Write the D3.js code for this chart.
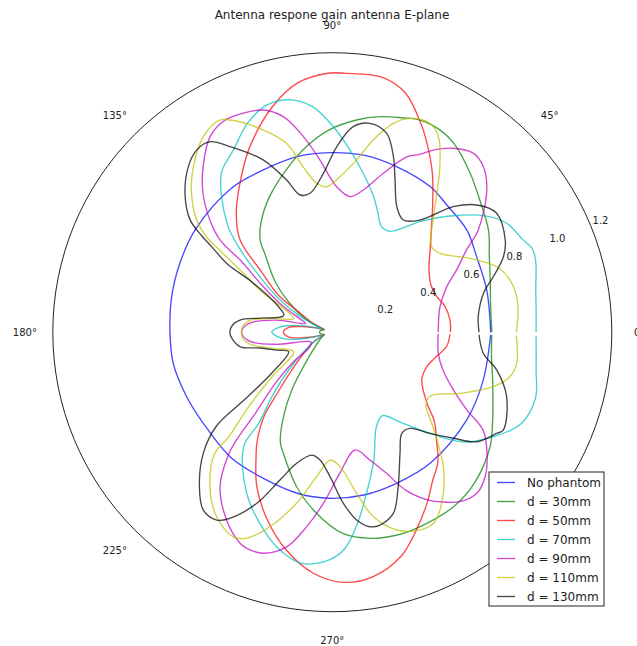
<!DOCTYPE html>
<html>
<head>
<meta charset="utf-8">
<script src="https://cdn.jsdelivr.net/npm/d3@7"></script>
<style>
  body { margin: 0; background: #ffffff; }
  text { font-family: "DejaVu Sans", sans-serif; fill: #222; }
</style>
</head>
<body>
<svg id="chart" width="637" height="646"></svg>
<script>
// ---- data: angle in degrees (counter-clockwise from 0°), normalised gain ----
const seriesNames = ["No phantom", "d = 30mm", "d = 50mm", "d = 70mm", "d = 90mm", "d = 110mm", "d = 130mm"];
const seriesColors = ["#0000ff", "#008000", "#ff0000", "#00bfbf", "#bf00bf", "#bfbf00", "#000000"];

const angNoPhantom = [0, 15, 28, 37, 48, 56, 69, 80, 91, 101, 113, 125, 143, 156, 168, 180, 191, 204, 215, 231, 245, 258, 269, 281, 293, 307, 327, 342, 359];
const gainNoPhantom = [0.68, 0.687, 0.70, 0.725, 0.735, 0.753, 0.763, 0.772, 0.771, 0.769, 0.757, 0.755, 0.735, 0.718, 0.706, 0.697, 0.696, 0.684, 0.678, 0.692, 0.694, 0.708, 0.713, 0.712, 0.705, 0.702, 0.689, 0.68, 0.68];

const ang30 = [0, 10, 18, 26, 33, 42, 49, 57, 62, 67.5, 72, 77.5, 83.5, 91, 98, 106, 115, 123, 128, 131, 138.6, 145.3, 153.4, 159, 163, 172, 180, 188, 197, 204, 229, 235, 240, 244.7, 248, 257, 265, 273, 280.5, 287.5, 294.5, 305, 314, 324, 331, 343, 352, 359];
const gain30 = [0.685, 0.69, 0.713, 0.75, 0.80, 0.851, 0.903, 0.963, 0.984, 0.986, 0.968, 0.948, 0.917, 0.868, 0.804, 0.723, 0.64, 0.562, 0.503, 0.438, 0.326, 0.228, 0.13, 0.063, 0.035, 0.05, 0.055, 0.05, 0.035, 0.048, 0.177, 0.303, 0.419, 0.522, 0.561, 0.681, 0.78, 0.865, 0.90, 0.914, 0.916, 0.912, 0.887, 0.837, 0.787, 0.72, 0.69, 0.685];

const ang50 = [0, 6, 13, 19, 25, 33, 40, 46, 52, 58, 64, 67, 73, 79, 87, 91, 98, 105, 114, 121, 129, 135, 139.5, 145.5, 149, 155, 162, 166, 170, 174, 180, 186, 190, 194, 198, 205, 209, 222, 228, 231, 235.6, 238, 244, 251, 258, 265.5, 272.5, 279.5, 287, 293, 299, 304, 309, 314, 319, 323, 332, 340, 347, 353, 359];
const gain50 = [0.507, 0.508, 0.496, 0.474, 0.469, 0.495, 0.548, 0.612, 0.70, 0.81, 0.919, 0.973, 1.074, 1.116, 1.113, 1.112, 1.08, 1.0, 0.871, 0.764, 0.655, 0.56, 0.40, 0.28, 0.168, 0.09, 0.04, 0.08, 0.14, 0.19, 0.21, 0.19, 0.14, 0.08, 0.04, 0.07, 0.10, 0.222, 0.354, 0.467, 0.572, 0.617, 0.739, 0.854, 0.955, 1.038, 1.075, 1.064, 1.007, 0.923, 0.839, 0.77, 0.72, 0.644, 0.58, 0.51, 0.435, 0.432, 0.46, 0.495, 0.505];

const ang70 = [0, 6, 12, 19, 22.5, 26, 32, 37, 44, 51.6, 60, 65, 69, 73, 79, 84.5, 89.7, 95, 100, 106, 112, 118.5, 125, 134, 137.5, 142.3, 148, 153.3, 158, 162, 167, 172, 176, 180, 184, 188.5, 193, 198, 206, 213.4, 220.9, 226.9, 231.1, 232.2, 242, 251, 256.5, 262, 268, 273, 277, 282, 288, 295, 301, 307, 312, 320, 327, 334, 342, 349.5, 359];
const gain70 = [0.875, 0.88, 0.893, 0.924, 0.931, 0.909, 0.883, 0.828, 0.72, 0.606, 0.50, 0.50, 0.547, 0.608, 0.695, 0.786, 0.882, 0.972, 1.013, 1.015, 0.969, 0.89, 0.831, 0.651, 0.55, 0.399, 0.271, 0.161, 0.079, 0.045, 0.12, 0.20, 0.24, 0.26, 0.24, 0.20, 0.12, 0.045, 0.08, 0.139, 0.248, 0.379, 0.503, 0.62, 0.783, 0.90, 0.962, 1.0, 0.986, 0.936, 0.842, 0.707, 0.576, 0.448, 0.418, 0.483, 0.564, 0.733, 0.824, 0.90, 0.917, 0.89, 0.875];

const ang90 = [0, 7, 13.3, 21.7, 26.6, 31.5, 35, 42.6, 47.6, 51.8, 56.7, 61, 64, 67, 72.2, 77.7, 82.6, 88.3, 94.1, 98.4, 102.8, 107.3, 112, 117, 122, 128, 133, 137.5, 140.6, 142.1, 146.3, 151.9, 158.6, 162, 168, 174, 180, 186, 192, 198, 205, 214.3, 216.9, 221.9, 226.5, 228.5, 230, 234, 240.6, 246.4, 248.4, 252.7, 258, 262.5, 267, 273, 281, 286.4, 291, 295, 300, 302.4, 307, 312, 316.6, 322, 327, 330, 334.5, 341, 348.7, 359];
const gain90 = [0.455, 0.46, 0.475, 0.529, 0.597, 0.676, 0.765, 0.901, 0.962, 0.978, 0.945, 0.894, 0.849, 0.818, 0.717, 0.625, 0.587, 0.625, 0.741, 0.849, 0.949, 0.999, 1.015, 1.02, 0.99, 0.901, 0.814, 0.713, 0.624, 0.491, 0.363, 0.245, 0.14, 0.12, 0.25, 0.36, 0.39, 0.36, 0.25, 0.13, 0.10, 0.123, 0.199, 0.329, 0.48, 0.629, 0.70, 0.82, 0.925, 0.989, 0.998, 0.994, 0.942, 0.842, 0.736, 0.607, 0.515, 0.572, 0.649, 0.749, 0.834, 0.862, 0.911, 0.929, 0.903, 0.843, 0.772, 0.667, 0.576, 0.503, 0.464, 0.455];

const ang110 = [0, 5, 10.9, 16.4, 21.7, 28.2, 36.2, 40.7, 45.8, 50.7, 57, 61.5, 65, 70, 73.7, 78, 82, 87.2, 92.2, 96, 100, 103.6, 108.8, 115.7, 118, 123.4, 130, 135.4, 140.4, 143, 144, 146.3, 150.2, 153.4, 160.7, 167, 172, 176, 180, 184, 188, 195, 206.8, 216.4, 221.7, 225.3, 226, 231.6, 237.9, 244.2, 247.4, 252.2, 258.2, 263.8, 269, 273.3, 278.6, 282.5, 288, 294, 298, 302.6, 309, 314, 318, 322, 327, 334.4, 341.3, 346, 350.4, 359];
const gain110 = [0.79, 0.80, 0.806, 0.795, 0.76, 0.671, 0.573, 0.563, 0.612, 0.696, 0.848, 0.955, 0.99, 0.977, 0.934, 0.844, 0.747, 0.668, 0.625, 0.643, 0.721, 0.834, 0.917, 1.011, 1.031, 1.006, 0.928, 0.849, 0.756, 0.67, 0.59, 0.466, 0.348, 0.242, 0.176, 0.265, 0.36, 0.385, 0.39, 0.385, 0.36, 0.268, 0.186, 0.322, 0.481, 0.632, 0.729, 0.846, 0.935, 0.976, 0.958, 0.877, 0.75, 0.624, 0.549, 0.578, 0.70, 0.811, 0.893, 0.929, 0.928, 0.872, 0.76, 0.649, 0.57, 0.51, 0.503, 0.608, 0.73, 0.787, 0.803, 0.79];

const ang130 = [0, 6, 14.4, 19, 23.8, 28, 36, 41.4, 46, 52, 57.7, 62.8, 67.6, 70.8, 74.7, 79.8, 84.2, 88.6, 93.2, 99.1, 103.2, 106.7, 111.8, 118.9, 122.7, 126.7, 131, 136.7, 141.7, 143.5, 144.8, 146.9, 147.5, 148, 154.8, 160.8, 164, 169, 172.5, 176, 180, 184, 189, 192.3, 198, 204, 214, 217.5, 219, 223.2, 229.3, 234, 238.4, 241, 246.2, 250.5, 254.8, 260.5, 264.5, 269.1, 273.7, 277.4, 281, 283.9, 288.6, 293.1, 299.2, 304.5, 308.9, 314, 318.8, 322.8, 328.4, 330.2, 339.7, 347.1, 352, 359];
const gain130 = [0.63, 0.63, 0.67, 0.731, 0.803, 0.841, 0.871, 0.826, 0.749, 0.611, 0.57, 0.606, 0.707, 0.798, 0.885, 0.911, 0.887, 0.797, 0.683, 0.604, 0.605, 0.682, 0.796, 0.91, 0.972, 0.975, 0.942, 0.869, 0.778, 0.70, 0.63, 0.541, 0.47, 0.407, 0.254, 0.22, 0.234, 0.316, 0.40, 0.43, 0.44, 0.43, 0.40, 0.318, 0.25, 0.205, 0.313, 0.47, 0.64, 0.76, 0.875, 0.943, 0.947, 0.915, 0.803, 0.673, 0.583, 0.535, 0.551, 0.62, 0.736, 0.813, 0.851, 0.853, 0.821, 0.721, 0.596, 0.527, 0.531, 0.604, 0.691, 0.778, 0.829, 0.846, 0.798, 0.724, 0.655, 0.63];

const seriesAngles = [angNoPhantom, ang30, ang50, ang70, ang90, ang110, ang130];
const seriesGains = [gainNoPhantom, gain30, gain50, gain70, gain90, gain110, gain130];

// angular labels (the 315° one sits under the legend box and is not shown)
const angleTicks = [0, 45, 90, 135, 180, 225, 270];
const radialTicks = [0.2, 0.4, 0.6, 0.8, 1.0, 1.2];
const radialMax = 1.2;
const titleText = "Antenna respone gain antenna E-plane";

// ---- layout ----
const svg = d3.select("#chart");
const cx = 332.3, cy = 332.2, outerR = 279.5;
const rScale = d3.scaleLinear().domain([0, radialMax]).range([0, outerR]);
const toRad = deg => deg * Math.PI / 180;

const g = svg.append("g").attr("transform", `translate(${cx},${cy})`);

// outer frame of the polar axes
g.append("circle")
  .attr("r", rScale(radialMax))
  .attr("fill", "none")
  .attr("stroke", "#222")
  .attr("stroke-width", 1);

// gain curves (lineRadial: angle 0 at 12 o'clock, clockwise)
const radial = d3.lineRadial()
  .angle(d => toRad(90 - d[0]))
  .radius(d => rScale(d[1]))
  .curve(d3.curveCatmullRom.alpha(0.5));

seriesNames.forEach((name, i) => {
  const pts = seriesAngles[i].map((a, j) => [a, seriesGains[i][j]]);
  g.append("path")
    .datum(pts)
    .attr("d", radial)
    .attr("fill", "none")
    .attr("stroke", seriesColors[i])
    .attr("stroke-opacity", 0.72)
    .attr("stroke-width", 1.35);
});

// radial tick labels along 22.5°
radialTicks.forEach(t => {
  const a = toRad(22.5);
  const rr = rScale(t);
  g.append("text")
    .attr("x", rr * Math.cos(a) + 2)
    .attr("y", -rr * Math.sin(a) - 1)
    .attr("font-size", 10)
    .text(t.toFixed(1));
});

// angular tick labels
angleTicks.forEach(t => {
  const a = toRad(t);
  const rr = outerR * 1.1;
  g.append("text")
    .attr("x", rr * Math.cos(a))
    .attr("y", -rr * Math.sin(a) + 0.5)
    .attr("text-anchor", "middle")
    .attr("dominant-baseline", "central")
    .attr("font-size", 10)
    .text(t + "°");
});

// title
svg.append("text")
  .attr("x", 332)
  .attr("y", 15)
  .attr("text-anchor", "middle")
  .attr("dominant-baseline", "central")
  .attr("font-size", 12)
  .text(titleText);

// legend
const lg = svg.append("g").attr("transform", "translate(489,472)");
lg.append("rect")
  .attr("width", 115).attr("height", 134)
  .attr("fill", "#fff").attr("stroke", "#222").attr("stroke-width", 1);
seriesNames.forEach((name, i) => {
  const y = 10.5 + i * 19;
  lg.append("line")
    .attr("x1", 8).attr("x2", 26).attr("y1", y).attr("y2", y)
    .attr("stroke", seriesColors[i]).attr("stroke-opacity", 0.72).attr("stroke-width", 1.35);
  lg.append("text")
    .attr("x", 38).attr("y", y)
    .attr("dominant-baseline", "central")
    .attr("font-size", 12)
    .text(name);
});
</script>
</body>
</html>
